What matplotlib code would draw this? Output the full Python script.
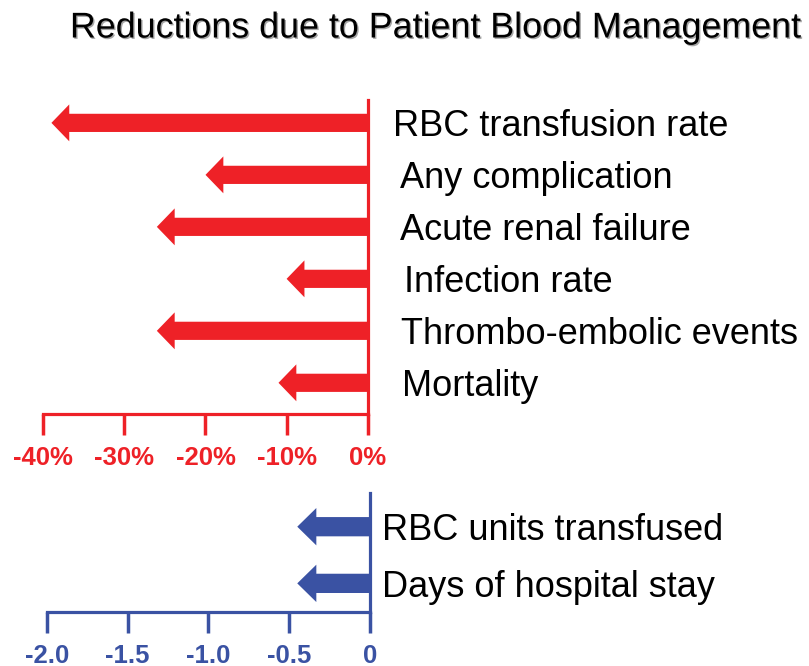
import matplotlib.pyplot as plt
import matplotlib.patheffects as pe

plt.rcParams['font.family'] = ['Liberation Sans', 'DejaVu Sans']

# outcomes reduced (percent change)
outcomes = ["RBC transfusion rate", "Any complication", "Acute renal failure",
            "Infection rate", "Thrombo-embolic events", "Mortality"]
pct_change = [-39, -20, -26, -10, -26, -11]
pct_ticks = [-40, -30, -20, -10, 0]
pct_ticklabels = ["-40%", "-30%", "-20%", "-10%", "0%"]

# absolute reductions
units = ["RBC units transfused", "Days of hospital stay"]
unit_change = [-0.45, -0.45]
unit_ticks = [-2.0, -1.5, -1.0, -0.5, 0]
unit_ticklabels = ["-2.0", "-1.5", "-1.0", "-0.5", "0"]

red = "#ee2127"
blue = "#3a52a3"

W, H = 809, 666
fig = plt.figure(figsize=(W / 100, H / 100), dpi=100)


def px_axes(x0, y0, x1, y1):
    # axes from pixel box (top-left origin)
    return fig.add_axes([x0 / W, 1 - y1 / H, (x1 - x0) / W, (y1 - y0) / H])


def style(ax, color):
    for s in ["left", "top"]:
        ax.spines[s].set_visible(False)
    for s in ["right", "bottom"]:
        ax.spines[s].set_color(color)
        ax.spines[s].set_linewidth(2.3)
    ax.set_yticks([])
    ax.tick_params(axis="x", direction="out", length=15, width=2.5, color=color,
                   labelcolor=color, labelsize=18.5, pad=8)
    for lab in ax.get_xticklabels():
        lab.set_fontweight("bold")


# red panel
ax1 = px_axes(43.3, 100, 367.7, 414)
ax1.set_xlim(-40, 0)
ax1.set_ylim(5.6, -0.44)
for i, v in enumerate(pct_change):
    ax1.arrow(0, i, v, 0, width=0.35, head_width=0.71, head_length=2.2,
              length_includes_head=True, color=red, lw=0, clip_on=False)
ax1.set_xticks(pct_ticks)
ax1.set_xticklabels(pct_ticklabels)
style(ax1, red)
label_dx = [18, 23, 23, 26, 24, 25]
for i, name in enumerate(outcomes):
    ax1.annotate(name, xy=(0, i), xytext=(label_dx[i], -9.5), textcoords="offset points",
                 va="baseline", ha="left", fontsize=26, color="black")

# blue panel
ax2 = px_axes(46.7, 492.7, 370, 611.7)
ax2.set_xlim(-2.0, 0)
ax2.set_ylim(1.5, -0.6)
for i, v in enumerate(unit_change):
    ax2.arrow(0, i, v, 0, width=0.34, head_width=0.66, head_length=0.118,
              length_includes_head=True, color=blue, lw=0, clip_on=False)
ax2.set_xticks(unit_ticks)
ax2.set_xticklabels(unit_ticklabels)
style(ax2, blue)
for i, name in enumerate(units):
    ax2.annotate(name, xy=(0, i), xytext=(9, -9.5), textcoords="offset points",
                 va="baseline", ha="left", fontsize=26, color="black")

fig.text(436 / W, 1 - 28 / H, "Reductions due to Patient Blood Management",
         ha="center", va="center", fontsize=25.8, color="black",
         path_effects=[pe.SimplePatchShadow(offset=(1.0, -1.0), alpha=0.35), pe.Normal()])

fig.savefig("out.png", dpi=100)
